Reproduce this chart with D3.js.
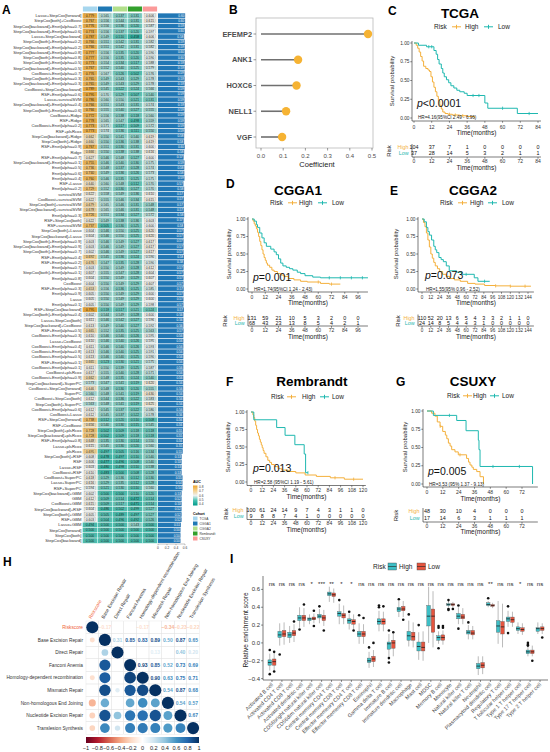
<!DOCTYPE html>
<html><head><meta charset="utf-8">
<script src="https://cdn.jsdelivr.net/npm/d3@7"></script>
<style>body{margin:0;background:#fff}svg{font-family:"Liberation Sans",Arial,Helvetica,sans-serif}</style>
</head><body><svg id="c" width="550" height="752"></svg>
<script>
// ---------------- DATA ----------------
const cohorts = ["TCGA","CGGA1","CGGA2","Rembrandt","CSUXY"];
const modelNames = [
"Lasso+StepCox[forward]","StepCox[both]+CoxBoost","StepCox[backward]+Enet[alpha=0.7]","StepCox[backward]+Enet[alpha=0.6]","Lasso+StepCox[backward]","StepCox[both]+Enet[alpha=0.2]","StepCox[backward]+Enet[alpha=0.2]","StepCox[backward]+Enet[alpha=0.8]","StepCox[both]+Enet[alpha=0.8]","StepCox[both]+Enet[alpha=0.5]",
"StepCox[backward]+Enet[alpha=0.5]","CoxBoost+Enet[alpha=0.7]","StepCox[both]+Enet[alpha=0.3]","StepCox[backward]+Enet[alpha=0.3]","CoxBoost+StepCox[backward]","RSF+Enet[alpha=0.6]","Lasso+survivalSVM","StepCox[backward]+Enet[alpha=0.4]","StepCox[both]+Enet[alpha=0.6]","CoxBoost+Ridge",
"RSF+Ridge","CoxBoost+Enet[alpha=0.2]","RSF+plsRcox","StepCox[backward]+Ridge","StepCox[both]+Ridge","RSF+Enet[alpha=0.9]","Ridge","RSF+Enet[alpha=0.7]","StepCox[backward]+Enet[alpha=0.1]","Enet[alpha=0.5]",
"Enet[alpha=0.6]","Enet[alpha=0.4]","RSF+Lasso","Enet[alpha=0.2]","survivalSVM","CoxBoost+survivalSVM","StepCox[both]+survivalSVM","StepCox[backward]+survivalSVM","Enet[alpha=0.3]","RSF+StepCox[both]",
"RSF+survivalSVM","StepCox[both]+Lasso","StepCox[backward]+Lasso","StepCox[both]+Enet[alpha=0.9]","StepCox[backward]+Enet[alpha=0.9]","StepCox[both]+Enet[alpha=0.7]","RSF+Enet[alpha=0.4]","RSF+Enet[alpha=0.2]","Enet[alpha=0.7]","StepCox[both]+Enet[alpha=0.1]",
"Enet[alpha=0.8]","CoxBoost","RSF+Enet[alpha=0.3]","Enet[alpha=0.9]","Lasso","Enet[alpha=0.1]","RSF+StepCox[backward]","StepCox[both]+Enet[alpha=0.4]","Lasso+StepCox[both]","StepCox[backward]+CoxBoost",
"RSF+Enet[alpha=0.5]","CoxBoost+Enet[alpha=0.3]","Lasso+CoxBoost","CoxBoost+Enet[alpha=0.4]","CoxBoost+Enet[alpha=0.8]","CoxBoost+Enet[alpha=0.5]","RSF+Enet[alpha=0.1]","CoxBoost+Enet[alpha=0.1]","CoxBoost+plsRcox","CoxBoost+Enet[alpha=0.9]",
"StepCox[backward]+SuperPC","CoxBoost+StepCox[forward]","SuperPC","CoxBoost+StepCox[both]","StepCox[both]+SuperPC","CoxBoost+Enet[alpha=0.6]","CoxBoost+Lasso","RSF+StepCox[forward]","RSF+CoxBoost","StepCox[both]+plsRcox",
"StepCox[backward]+plsRcox","RSF+Enet[alpha=0.8]","Lasso+plsRcox","plsRcox","StepCox[both]+RSF","RSF","Lasso+RSF","CoxBoost+RSF","CoxBoost+SuperPC","Lasso+SuperPC",
"RSF+SuperPC","StepCox[backward]+GBM","GBM","CoxBoost+GBM","StepCox[backward]+RSF","StepCox[both]+GBM","RSF+GBM","Lasso+GBM","StepCox[forward]","StepCox[both]",
"StepCox[backward]"];
const aucTCGA = [
.779,.767,.776,.774,.787,.766,.766,.777,.777,.773,
.767,.776,.765,.765,.789,.795,.786,.766,.766,.772,
.778,.773,.773,.662,.660,.767,.666,.627,.755,.736,
.740,.760,.640,.729,.622,.622,.679,.678,.726,.622,
.737,.604,.604,.603,.603,.602,.692,.676,.603,.607,
.604,.604,.653,.605,.605,.605,.795,.602,.611,.613,
.665,.610,.610,.611,.613,.613,.665,.611,.617,.662,
.573,.646,.560,.612,.563,.612,.612,.738,.656,.728,
.728,.648,.615,.695,.608,.606,.603,.610,.618,.616,
.594,.602,.612,.615,.604,.605,.603,.494,.500,.500,.500];
const aucCGGA1 = [
.565,.556,.556,.556,.549,.551,.551,.556,.556,.554,
.552,.567,.549,.549,.545,.570,.560,.551,.555,.556,
.565,.571,.574,.550,.550,.551,.550,.546,.546,.548,
.549,.546,.560,.552,.558,.555,.565,.565,.551,.549,
.505,.546,.546,.546,.546,.546,.545,.547,.550,.555,
.550,.550,.556,.550,.550,.550,.518,.544,.546,.549,
.552,.546,.546,.546,.546,.546,.523,.550,.555,.548,
.547,.548,.548,.544,.548,.545,.545,.512,.540,.502,
.502,.535,.545,.497,.478,.477,.480,.483,.529,.529,
.521,.500,.509,.509,.486,.505,.504,.500,.500,.500,.500];
const aucCGGA2 = [
.537,.544,.536,.537,.510,.542,.542,.535,.535,.534,
.540,.526,.543,.543,.522,.529,.550,.543,.540,.538,
.547,.517,.536,.541,.536,.530,.538,.548,.540,.537,
.536,.535,.548,.530,.549,.546,.546,.546,.534,.538,
.530,.550,.550,.549,.549,.549,.536,.535,.549,.547,
.549,.549,.536,.549,.549,.549,.517,.549,.542,.540,
.535,.540,.540,.540,.540,.540,.530,.539,.540,.535,
.541,.530,.541,.536,.541,.537,.537,.520,.530,.509,
.509,.530,.530,.505,.497,.496,.498,.500,.536,.535,
.530,.500,.514,.517,.502,.489,.496,.500,.500,.500,.500];
const aucRembrandt = [
.531,.531,.520,.520,.458,.531,.531,.520,.520,.517,
.525,.502,.529,.529,.524,.507,.521,.531,.527,.518,
.498,.509,.511,.540,.538,.531,.538,.527,.530,.528,
.526,.525,.512,.527,.536,.534,.531,.531,.527,.536,
.525,.525,.525,.527,.527,.527,.524,.528,.528,.528,
.529,.529,.525,.529,.529,.529,.521,.528,.527,.527,
.525,.526,.526,.526,.525,.525,.521,.525,.528,.524,
.519,.520,.519,.522,.519,.522,.522,.510,.515,.518,
.518,.514,.520,.516,.510,.508,.510,.508,.512,.512,
.510,.510,.472,.471,.499,.497,.492,.543,.500,.500,.500];
const aucCSUXY = [
.606,.615,.587,.597,.606,.582,.582,.590,.590,.588,
.579,.576,.578,.578,.566,.540,.531,.574,.555,.560,
.559,.572,.550,.619,.619,.600,.616,.600,.575,.574,
.573,.575,.570,.570,.610,.615,.548,.548,.572,.603,
.600,.620,.620,.617,.617,.617,.590,.590,.612,.604,
.607,.607,.585,.600,.600,.598,.524,.600,.596,.592,
.563,.595,.595,.593,.591,.590,.575,.587,.571,.540,
.620,.555,.630,.583,.625,.580,.578,.508,.545,.518,
.518,.550,.560,.534,.540,.540,.538,.528,.530,.528,
.560,.520,.514,.514,.527,.527,.526,.500,.500,.500,.500];
const aucLegendTicks = [0.8,0.7,0.6,0.5,0.4];
const meanTicks = [0,0.2,0.4,0.6];

const genes = ["EFEMP2","ANK1","HOXC6","NELL1","VGF"];
const coefs = [0.482,0.167,0.160,0.113,0.095];
const coefTicks = [0,0.1,0.2,0.3,0.4,0.5];

// Kaplan-Meier step data (months, survival)
const tcgaHighT=[0,1.5,2.5,3.5,4.5,5.5,6.5,8,9.5,10.5,11.5,12.5,13.5,14.5,15.5,16.5,17.5,18.5,19.5,21,23,26,31,36,41];
const tcgaHighS=[1,.97,.93,.88,.82,.76,.69,.66,.64,.62,.55,.48,.41,.35,.29,.23,.17,.12,.08,.06,.05,.04,.03,.02,0];
const tcgaLowT=[0,3,8.5,13.5,15,16,17,18.5,19.5,20.5,22,23.5,25,27,29,31,34,36,48,50,70];
const tcgaLowS=[1,.97,.95,.9,.85,.78,.72,.66,.6,.55,.51,.47,.43,.4,.37,.35,.33,.3,.2,.13,.06];
const tcgaRiskHigh=[104,37,7,1,0,0,0,0], tcgaRiskLow=[37,28,14,5,3,2,1,1];

const cgga1HighT=[0,1,2,3,4,5,6,7,8,9,10,11,12,13,14,16,18,20,23,26,29,33,38,44,50,62,70];
const cgga1HighS=[1,.97,.93,.90,.86,.81,.75,.68,.62,.56,.50,.45,.41,.37,.34,.31,.27,.25,.22,.20,.18,.15,.13,.11,.10,.08,.07];
const cgga1LowT=[0,2,4,5,7,9,11,13,17,20,22,24,26,28,31,34,37,41,44,48,55,62];
const cgga1LowS=[1,.97,.92,.88,.80,.73,.66,.61,.57,.53,.49,.43,.37,.33,.31,.29,.27,.24,.22,.19,.17,.16];
const cgga1RiskHigh=[131,59,21,10,5,3,2,0,0], cgga1RiskLow=[68,43,23,13,8,5,4,2,1];

const cgga2HighT=[0,2,4,6,8,10,12,14,16,18,21,24,28,33,38,44,52,62,72,85,100,120];
const cgga2HighS=[1,.95,.89,.80,.70,.60,.50,.44,.38,.33,.29,.25,.21,.18,.15,.13,.11,.08,.07,.05,.045,.04];
const cgga2LowT=[0,3,6,8,10,13,16,18,20,23,26,29,33,37,47,54,71,76];
const cgga2LowS=[1,.96,.88,.82,.77,.70,.61,.56,.52,.45,.42,.39,.33,.26,.24,.21,.16,.11];
const cgga2RiskHigh=[110,52,20,13,6,5,4,3,3,2,1,1,0], cgga2RiskLow=[24,14,8,5,4,4,3,1,0,0,0,0,0];

const remHighT=[0,2,3,4,5,6,7,8,9,10,11,12,13,14,16,18,20,22,25,29,33,40,48,58,70,85,100];
const remHighS=[1,.96,.92,.87,.81,.75,.70,.66,.61,.57,.53,.49,.45,.41,.36,.31,.28,.25,.22,.19,.17,.15,.13,.10,.08,.06,.04];
const remLowT=[0,3,27.5,36.5,47,57,58.5];
const remLowS=[1,.889,.778,.667,.533,.4,.133];
const remRiskHigh=[100,61,24,14,9,7,4,3,1,1,0], remRiskLow=[9,8,8,7,4,1,0,0,0,0,0];

const csuHighT=[0,3.5,6,7.8,9.9,11.9,13.9,15,16.2,17.5,18.7,21.2,23.7,30,31.5,32.6,34,35.1,37.7,40.2,42.8];
const csuHighS=[1,.97,.93,.85,.79,.72,.67,.62,.56,.52,.47,.44,.40,.35,.30,.26,.23,.20,.17,.10,0];
const csuLowT=[0,4.8,22.5,29.6,38.9,39.4,40.2,80];
const csuLowS=[1,.94,.87,.73,.6,.47,.24,0];
const csuRiskHigh=[48,30,10,4,0,0,0], csuRiskLow=[17,14,6,3,1,1,1];

// correlation (null = not significant)
const repairVars = ["Riskscore","Base Excision Repair","Direct Repair","Fanconi Anemia","Homology-dependent recombination","Mismatch Repair","Non-homologous End Joining","Nucleotide Excision Repair","Translesion Synthesis"];
const corrRows = [
 [1,-0.17,null,null,-0.17,null,-0.34,-0.23,-0.22],
 [-0.17,1,0.31,0.85,0.83,0.89,0.50,0.87,0.65],
 [null,0.31,1,null,null,0.13,null,0.40,0.20],
 [null,0.85,null,1,0.93,0.85,0.52,0.73,0.69],
 [-0.17,0.83,null,0.93,1,0.90,0.63,0.75,0.71],
 [null,0.89,0.13,0.85,0.90,1,0.54,0.87,0.68],
 [-0.34,0.50,null,0.52,0.63,0.54,1,0.54,0.57],
 [-0.23,0.87,0.40,0.73,0.75,0.87,0.54,1,0.67],
 [-0.22,0.65,0.20,0.69,0.71,0.68,0.57,0.67,1]];
const corrTicks = [-1,-0.8,-0.6,-0.4,-0.2,0,0.2,0.4,0.6,0.8,1];

// immune infiltration boxplots [lowWhisker,q1,median,q3,highWhisker]
const immuneCells = ["Activated B cell","Activated CD4 T cell","Activated CD8 T cell","Activated dendritic cell","CD56bright natural killer cell","CD56dim natural killer cell","Central memory CD4 T cell","Central memory CD8 T cell","Effector memeory CD4 T cell","Effector memeory CD8 T cell","Eosinophil","Gamma delta T cell","Immature  B cell","Immature dendritic cell","Macrophage","Mast cell","MDSC","Memory B cell","Monocyte","Natural killer cell","Natural killer T cell","Neutrophil","Plasmacytoid dendritic cell","Regulatory T cell","T follicular helper cell","Type 1 T helper cell","Type 17 T helper cell","Type 2 T helper cell"];
const immuneSig = ["ns","ns","ns","ns","*","***","**","*","*","ns","ns","ns","ns","ns","ns","ns","ns","ns","ns","ns","ns","ns","**","ns","ns","*","ns","ns"];
const highStats = [[-.31,-.25,-.22,-.19,-.12],[-.03,.06,.09,.13,.22],[0,.06,.09,.12,.19],[.17,.25,.28,.31,.40],[.21,.25,.27,.28,.32],[.22,.28,.30,.32,.38],[.46,.53,.55,.57,.63],[.21,.30,.33,.35,.44],[.15,.22,.25,.27,.33],[-.01,.07,.10,.13,.22],[-.28,-.22,-.20,-.17,-.10],[.13,.21,.24,.27,.36],[-.16,-.07,-.01,.01,.10],[.29,.35,.38,.40,.47],[-.04,.03,.08,.13,.25],[-.19,-.09,-.04,.01,.12],[0,.19,.30,.42,.63],[-.01,.03,.06,.08,.13],[.40,.42,.43,.44,.47],[.21,.27,.30,.33,.40],[.04,.10,.12,.14,.20],[-.36,-.29,-.26,-.23,-.15],[.40,.42,.43,.45,.47],[-.01,.12,.19,.25,.47],[.18,.24,.27,.29,.36],[.10,.14,.16,.18,.23],[-.15,-.12,-.10,-.08,-.03],[.10,.13,.16,.17,.23]];
const lowStats = [[-.31,-.25,-.21,-.18,-.11],[-.02,.07,.10,.14,.23],[.01,.08,.11,.14,.21],[.18,.25,.28,.31,.39],[.22,.26,.27,.29,.33],[.19,.25,.28,.31,.37],[.45,.52,.54,.56,.61],[.21,.28,.31,.33,.42],[.15,.21,.24,.26,.32],[-.01,.07,.10,.13,.21],[-.27,-.21,-.18,-.15,-.08],[.13,.21,.24,.27,.35],[-.15,-.06,0,.03,.12],[.29,.36,.38,.41,.47],[-.05,.03,.07,.12,.23],[-.20,-.09,-.05,.01,.13],[-.05,.12,.30,.38,.58],[-.02,.03,.06,.09,.14],[.39,.42,.43,.44,.46],[.21,.27,.29,.32,.39],[.04,.09,.11,.14,.19],[-.35,-.28,-.25,-.22,-.15],[.39,.41,.42,.43,.45],[-.05,.10,.18,.24,.44],[.18,.23,.26,.29,.35],[.09,.13,.15,.17,.22],[-.15,-.12,-.10,-.08,-.03],[.10,.14,.16,.18,.22]];
const highOut = [[-.08,-.35],[-.13],[],[.15],[],[.41],[],[.48],[.35],[.31],[-.05],[.40,.42],[.14,-.17,-.22],[.49],[.32],[.20],[],[.17,.19,-.06],[.48,.38,.37],[.42,.16],[.23],[],[.50],[],[.41,.11],[],[0,-.02,-.03],[]];
const lowOut = [[-.10,-.32],[],[.24],[.43],[.36,.19],[.14],[],[],[.14],[.28],[0],[.41],[.12],[.26],[],[],[],[.17,.19],[.38],[],[],[],[],[],[],[],[-.20],[.06]];
const enrichTicks = [-0.4,-0.2,0,0.2,0.4,0.6];

// ---------------- DRAW ----------------
const svg = d3.select("#c");
const HIGH="#F4B03C", LOW="#1FB8B0";
function txt(g,x,y,s,o={}){
  const t=g.append("text").attr("x",x).attr("y",y).text(s)
    .attr("font-size",o.size||6).attr("fill",o.fill||"#000")
    .attr("text-anchor",o.anchor||"start");
  if(o.weight) t.attr("font-weight",o.weight);
  if(o.style) t.attr("font-style",o.style);
  if(o.rotate!==undefined) t.attr("transform",`rotate(${o.rotate},${x},${y})`);
  return t;
}
function letter(x,y,s){ txt(svg,x,y,s,{size:12,weight:"bold"}); }

// ===== Panel A =====
letter(2,14,"A");
const A = svg.append("g");
const aucData=[aucTCGA,aucCGGA1,aucCGGA2,aucRembrandt,aucCSUXY];
const cohortCols=["#A6D6EE","#1F78B4","#B2DF8A","#33A02C","#FB9A99"];
const rowY=d3.scaleBand().domain(d3.range(modelNames.length)).range([13,543.3]);
const colX=d3.scaleBand().domain(cohorts).range([82.5,157.5]);
const aucColor=d3.scaleLinear().domain([0.4,0.5,0.6,0.7,0.8]).range(["#009A8A","#47C1B1","#EEF1F0","#F6D08A","#EEA42A"]).clamp(true);
cohorts.forEach((c,i)=>A.append("rect").attr("x",colX(c)+0.4).attr("y",6.5).attr("width",colX.bandwidth()-0.8).attr("height",5).attr("fill",cohortCols[i]));
const bh=rowY.bandwidth();
modelNames.forEach((m,r)=>{
  const y=rowY(r);
  cohorts.forEach((c,j)=>{
    const v=aucData[j][r], x=colX(c), w=colX.bandwidth();
    A.append("rect").attr("x",x).attr("y",y).attr("width",w).attr("height",bh).attr("fill",aucColor(v)).attr("stroke","#fff").attr("stroke-width",0.35);
    A.append("rect").attr("x",x+1.8).attr("y",y+0.7).attr("width",w-3.6).attr("height",bh-1.4).attr("fill","none").attr("stroke","#8c8c8c").attr("stroke-width",0.25);
    txt(A,x+w/2,y+bh/2+1.2,d3.format(".3f")(v),{size:3.4,anchor:"middle",fill:"#222"});
  });
  txt(A,81.5,y+bh/2+1.5,m,{size:4.2,anchor:"end",fill:"#333"});
});
const meanX=d3.scaleLinear().domain([0,0.6]).range([158,185]);
modelNames.forEach((m,r)=>{
  const mv=d3.mean(aucData,a=>a[r]);
  A.append("rect").attr("x",meanX(0)).attr("y",rowY(r)+0.35).attr("width",meanX(mv)-meanX(0)).attr("height",bh-0.7).attr("fill","#2177B5");
  txt(A,meanX(mv)-0.8,rowY(r)+bh/2+1.1,d3.format(".2f")(mv),{size:3.1,anchor:"end",fill:"#fff"});
});
A.append("line").attr("x1",meanX(0)).attr("x2",meanX(0.6)).attr("y1",544).attr("y2",544).attr("stroke","#333").attr("stroke-width",0.3);
meanTicks.forEach(t=>{
  A.append("line").attr("x1",meanX(t)).attr("x2",meanX(t)).attr("y1",544).attr("y2",545.3).attr("stroke","#333").attr("stroke-width",0.3);
  txt(A,meanX(t),549,t===0?"0":d3.format(".1f")(t),{size:3.2,anchor:"middle",fill:"#333"});
});
// A legend
const defs=svg.append("defs");
const gA=defs.append("linearGradient").attr("id","aucGrad").attr("x1",0).attr("x2",0).attr("y1",0).attr("y2",1);
aucLegendTicks.forEach((t,i)=>gA.append("stop").attr("offset",i/(aucLegendTicks.length-1)).attr("stop-color",aucColor(t)));
txt(A,193,483,"AUC",{size:3.6,weight:"bold"});
const legY=d3.scaleLinear().domain([0.8,0.4]).range([487,504]);
A.append("rect").attr("x",193).attr("y",485.5).attr("width",4.5).attr("height",20).attr("fill","url(#aucGrad)");
aucLegendTicks.forEach(t=>txt(A,199,legY(t)+1.2,d3.format(".1f")(t),{size:3.2,fill:"#333"}));
txt(A,193,515,"Cohort",{size:3.6,weight:"bold"});
cohorts.forEach((c,i)=>{
  A.append("rect").attr("x",193).attr("y",516.5+i*5).attr("width",4.5).attr("height",4).attr("fill",cohortCols[i]);
  txt(A,199.5,519.8+i*5,c,{size:3.2,fill:"#333"});
});

// ===== Panel B =====
letter(229,14,"B");
const B=svg.append("g");
const bx=d3.scaleLinear().domain([0,0.5]).range([261,372]);
const by=d3.scalePoint().domain(genes).range([34,137]);
B.append("rect").attr("x",256).attr("y",18).attr("width",117).attr("height",130).attr("fill","none").attr("stroke","#b8b8b8").attr("stroke-width",0.8);
genes.forEach((g,i)=>{
  B.append("line").attr("x1",bx(0)).attr("x2",bx(coefs[i])).attr("y1",by(g)).attr("y2",by(g)).attr("stroke","#707070").attr("stroke-width",1.6);
  B.append("circle").attr("cx",bx(coefs[i])).attr("cy",by(g)).attr("r",4.2).attr("fill","#F6B333");
  B.append("line").attr("x1",253.5).attr("x2",256).attr("y1",by(g)).attr("y2",by(g)).attr("stroke","#555").attr("stroke-width",0.6);
  txt(B,252,by(g)+2.6,g,{size:7.4,weight:"bold",anchor:"end",fill:"#4d4d4d"});
});
coefTicks.forEach(t=>{
  B.append("line").attr("x1",bx(t)).attr("x2",bx(t)).attr("y1",148).attr("y2",150.5).attr("stroke","#555").attr("stroke-width",0.6);
  txt(B,bx(t),158,d3.format(".1f")(t),{size:6,anchor:"middle",fill:"#4d4d4d"});
});
txt(B,317,166.5,"Coefficient",{size:7.5,anchor:"middle",fill:"#222"});

// ===== KM panels =====
function km(c){
  const g=svg.append("g");
  letter(c.lx,c.ly,c.letter);
  txt(g,c.tx,c.ty,c.title,{size:13.5,weight:"bold",anchor:"middle"});
  // legend
  txt(g,c.leg[0],c.legY,"Risk",{size:6.5,fill:"#222"});
  [[c.leg[1],HIGH,"High",c.leg[2]],[c.leg[3],LOW,"Low",c.leg[4]]].forEach(([lx,col,lab,tx])=>{
    g.append("line").attr("x1",lx).attr("x2",lx+9).attr("y1",c.legY-2.2).attr("y2",c.legY-2.2).attr("stroke",col).attr("stroke-width",1);
    g.append("line").attr("x1",lx+4.5).attr("x2",lx+4.5).attr("y1",c.legY-4.2).attr("y2",c.legY-0.2).attr("stroke",col).attr("stroke-width",1);
    txt(g,tx,c.legY,lab,{size:6.5,fill:"#222"});
  });
  const x=d3.scaleLinear().domain([0,1]).range([c.x0,c.x0+c.ppm]);
  const y=d3.scaleLinear().domain([0,1]).range([c.yB,c.yT]);
  const xEnd=x(c.xMax);
  // axes
  g.append("line").attr("x1",c.axX).attr("x2",c.axX).attr("y1",c.yT-2).attr("y2",c.axY).attr("stroke","#222").attr("stroke-width",0.6);
  g.append("line").attr("x1",c.axX).attr("x2",xEnd).attr("y1",c.axY).attr("y2",c.axY).attr("stroke","#222").attr("stroke-width",0.6);
  [0,0.25,0.5,0.75,1].forEach(v=>{
    g.append("line").attr("x1",c.axX-1.8).attr("x2",c.axX).attr("y1",y(v)).attr("y2",y(v)).attr("stroke","#222").attr("stroke-width",0.5);
    txt(g,c.axX-2.5,y(v)+1.7,d3.format(".2f")(v),{size:4.8,anchor:"end",fill:"#333"});
  });
  c.breaks.forEach(b=>{
    g.append("line").attr("x1",x(b)).attr("x2",x(b)).attr("y1",c.axY).attr("y2",c.axY+1.8).attr("stroke","#222").attr("stroke-width",0.5);
    txt(g,x(b),c.tickY,b,{size:c.tfs||5,anchor:"middle",fill:"#333"});
  });
  const mid=(c.axX+xEnd)/2;
  txt(g,mid,c.timeY,"Time(months)",{size:6.5,anchor:"middle",fill:"#222"});
  txt(g,c.spX,c.spY,"Survival probability",{size:6,anchor:"middle",fill:"#222",rotate:-90});
  // curves
  const line=d3.line().x(d=>x(d[0])).y(d=>y(d[1])).curve(d3.curveStepAfter);
  [[c.hT,c.hS,c.hEnd,HIGH,c.hC],[c.lT,c.lS,c.lEnd,LOW,c.lC]].forEach(([T,S,end,col,cens])=>{
    const pts=T.map((t,i)=>[t,S[i]]); pts.push([end,S[S.length-1]]);
    g.append("path").attr("d",line(pts)).attr("fill","none").attr("stroke",col).attr("stroke-width",1);
    (cens||[]).forEach(t=>{
      const i=d3.bisectRight(T,t)-1; const s=S[Math.max(0,i)];
      g.append("line").attr("x1",x(t)).attr("x2",x(t)).attr("y1",y(s)-1.6).attr("y2",y(s)+1.6).attr("stroke",col).attr("stroke-width",0.8);
    });
  });
  // p and HR
  const pt=g.append("text").attr("x",c.pX).attr("y",c.pY).attr("font-size",10.5).attr("fill","#111");
  pt.append("tspan").attr("font-style","italic").text("p");
  pt.append("tspan").text(c.p);
  txt(g,c.pX+1,c.hrY,c.hr,{size:4.6,fill:"#222"});
  // risk table
  txt(g,c.riskX,(c.rowY[0]+c.rowY[1])/2-1,"Risk",{size:6,anchor:"middle",rotate:-90,fill:"#222"});
  txt(g,c.axX-3.5,c.rowY[0],"High",{size:5.3,anchor:"end",fill:HIGH});
  txt(g,c.axX-3.5,c.rowY[1],"Low",{size:5.3,anchor:"end",fill:LOW});
  g.append("line").attr("x1",c.axX).attr("x2",c.axX).attr("y1",c.rowY[0]-5).attr("y2",c.rAxY).attr("stroke","#222").attr("stroke-width",0.6);
  g.append("line").attr("x1",c.axX).attr("x2",xEnd).attr("y1",c.rAxY).attr("y2",c.rAxY).attr("stroke","#222").attr("stroke-width",0.6);
  c.breaks.forEach((b,i)=>{
    txt(g,x(b),c.rowY[0],c.rH[i],{size:5.4,anchor:"middle",fill:"#111"});
    txt(g,x(b),c.rowY[1],c.rL[i],{size:5.4,anchor:"middle",fill:"#111"});
    g.append("line").attr("x1",x(b)).attr("x2",x(b)).attr("y1",c.rAxY).attr("y2",c.rAxY+1.8).attr("stroke","#222").attr("stroke-width",0.5);
    txt(g,x(b),c.rTickY,b,{size:c.tfs||5,anchor:"middle",fill:"#333"});
  });
  txt(g,mid,c.rTimeY,"Time(months)",{size:6.5,anchor:"middle",fill:"#222"});
}
km({letter:"C",lx:388,ly:15,title:"TCGA",tx:460,ty:18,legY:29,leg:[434,452,465,484,498],
  axX:412,x0:414,ppm:124/84,xMax:86,breaks:d3.range(0,85,12),yT:43,yB:118,axY:121,tickY:129,timeY:135,spX:394,spY:81,
  hT:tcgaHighT,hS:tcgaHighS,hEnd:41,lT:tcgaLowT,lS:tcgaLowS,lEnd:84,hC:[24,28,33],lC:[10,12,40,44,60,78],
  p:"<0.0001",pX:417,pY:106.5,hr:"HR=4.16(95%CI 2.49 - 6.96)",hrY:118.5,
  riskX:391,rowY:[149,155],rAxY:157,rTickY:163,rTimeY:170,rH:tcgaRiskHigh,rL:tcgaRiskLow});
km({letter:"D",lx:226,ly:188,title:"CGGA1",tx:298,ty:195,legY:205,leg:[270,288,299,318,332],
  axX:248,x0:252,ppm:13.25/12,xMax:105,breaks:d3.range(0,97,12),yT:219,yB:289,axY:292,tickY:298.5,timeY:305,spX:231,spY:254,
  hT:cgga1HighT,hS:cgga1HighS,hEnd:80,lT:cgga1LowT,lS:cgga1LowS,lEnd:105,hC:[60,72],lC:[70,80,90,100],
  p:"=0.001",pX:253,pY:281,hr:"HR=1.74(95%CI 1.24 - 2.43)",hrY:290.5,
  riskX:227,rowY:[319.5,324.5],rAxY:326,rTickY:331.5,rTimeY:338.5,rH:cgga1RiskHigh,rL:cgga1RiskLow});
km({letter:"E",lx:390,ly:195,title:"CGGA2",tx:473,ty:195,legY:205,leg:[440,458,470,488,502],
  axX:418,x0:422,ppm:106/144,xMax:152,breaks:d3.range(0,145,12),yT:219,yB:289,axY:292,tickY:298.5,timeY:305,spX:398,spY:254,tfs:4.6,
  hT:cgga2HighT,hS:cgga2HighS,hEnd:148,lT:cgga2LowT,lS:cgga2LowS,lEnd:92,hC:[100,120,140],lC:[60,85],
  p:"=0.073",pX:425,pY:279,hr:"HR=1.55(95% 0.96 - 2.52)",hrY:290.5,
  riskX:400,rowY:[319.5,324.5],rAxY:326,rTickY:331.5,rTimeY:338.5,rH:cgga2RiskHigh,rL:cgga2RiskLow});
km({letter:"F",lx:226,ly:386,title:"Rembrandt",tx:312,ty:386,legY:399,leg:[271,287,302,320,332],
  axX:247,x0:251,ppm:112/120,xMax:123,breaks:d3.range(0,121,12),yT:412,yB:482,axY:485.5,tickY:492,timeY:498.5,spX:230,spY:447,
  hT:remHighT,hS:remHighS,hEnd:120,lT:remLowT,lS:remLowS,lEnd:61,hC:[90,110],lC:[61],
  p:"=0.013",pX:253,pY:472,hr:"HR=2.58 (95%CI 1.19 - 5.61)",hrY:484,
  riskX:228,rowY:[512,518],rAxY:519.5,rTickY:525,rTimeY:531.5,rH:remRiskHigh,rL:remRiskLow});
km({letter:"G",lx:396,ly:386,title:"CSUXY",tx:473,ty:386,legY:398,leg:[447,463,473,490,502],
  axX:423,x0:427,ppm:95/72,xMax:84,breaks:d3.range(0,73,12),yT:411,yB:484,axY:487,tickY:494,timeY:500.5,spX:407,spY:447,
  hT:csuHighT,hS:csuHighS,hEnd:42.8,lT:csuLowT,lS:csuLowS,lEnd:80,hC:[10,25],lC:[17,50,70],
  p:"=0.005",pX:428,pY:475,hr:"HR=3.53 (95% 1.37 - 9.13)",hrY:486,
  riskX:398,rowY:[513,520],rAxY:522,rTickY:528,rTimeY:534,rH:csuRiskHigh,rL:csuRiskLow});

// ===== Panel H =====
letter(3,566,"H");
const H=svg.append("g");
const rdbu=["#67001F","#B2182B","#D6604D","#F4A582","#FDDBC7","#FFFFFF","#D1E5F0","#92C5DE","#4393C3","#2166AC","#053061"];
const corrColor=d3.scaleLinear().domain(corrTicks).range(rdbu);
const hx=d3.scaleBand().domain(d3.range(9)).range([86,199.4]);
const hy=d3.scaleBand().domain(d3.range(9)).range([621,734.4]);
const cw=hx.bandwidth();
for(let i=0;i<9;i++)for(let j=0;j<9;j++){
  H.append("rect").attr("x",hx(j)).attr("y",hy(i)).attr("width",cw).attr("height",cw).attr("fill","none").attr("stroke","#e3e3e3").attr("stroke-width",0.4);
}
for(let i=0;i<9;i++)for(let j=0;j<9;j++){
  const v=corrRows[i][j]; if(v===null) continue;
  const cx=hx(j)+cw/2, cy=hy(i)+cw/2;
  if(j<=i){
    H.append("circle").attr("cx",cx).attr("cy",cy).attr("r",Math.sqrt(Math.abs(v))*cw*0.48).attr("fill",corrColor(v));
  } else {
    txt(H,cx,cy+1.8,d3.format(".2f")(v),{size:5,weight:"bold",anchor:"middle",fill:corrColor(v)});
  }
}
repairVars.forEach((v,i)=>{
  const col=i===0?"#F0643A":"#333";
  txt(H,83,hy(i)+cw/2+1.7,v,{size:4.75,anchor:"end",fill:col});
  txt(H,hx(i)+cw/2-1,619,v,{size:4.75,fill:col,rotate:-60});
});
const gH=defs.append("linearGradient").attr("id","corrGrad");
rdbu.forEach((c,i)=>gH.append("stop").attr("offset",i/10).attr("stop-color",c));
const cbx=d3.scaleLinear().domain([-1,1]).range([86,199]);
H.append("rect").attr("x",86).attr("y",737).attr("width",113).attr("height",6).attr("fill","url(#corrGrad)");
corrTicks.forEach(t=>txt(H,cbx(t),750,d3.format("~g")(t),{size:5.6,anchor:"middle",fill:"#222"}));

// ===== Panel I =====
letter(230,563,"I");
const I=svg.append("g");
const BH="#3DBFC6", BL="#E5553F";
const ix=d3.scaleBand().domain(immuneCells).range([267,545]);
const iy=d3.scaleLinear().domain([-0.4,0.6]).range([678.6,589.4]);
txt(I,373,569,"Risk",{size:6.5,fill:"#222"});
[[388,BH,"High",399],[417,BL,"Low",428]].forEach(([x0,col,lab,tx])=>{
  I.append("rect").attr("x",x0).attr("y",563).attr("width",8.5).attr("height",7).attr("fill",col).attr("stroke","#444").attr("stroke-width",0.4);
  I.append("line").attr("x1",x0).attr("x2",x0+8.5).attr("y1",566.5).attr("y2",566.5).attr("stroke","#222").attr("stroke-width",0.6);
  txt(I,tx,569,lab,{size:6.5,fill:"#222"});
});
I.append("line").attr("x1",263).attr("x2",263).attr("y1",576).attr("y2",680).attr("stroke","#222").attr("stroke-width",0.6);
I.append("line").attr("x1",263).attr("x2",548).attr("y1",680).attr("y2",680).attr("stroke","#222").attr("stroke-width",0.6);
enrichTicks.forEach(t=>{
  I.append("line").attr("x1",261).attr("x2",263).attr("y1",iy(t)).attr("y2",iy(t)).attr("stroke","#222").attr("stroke-width",0.5);
  txt(I,260,iy(t)+2,d3.format(".1f")(t),{size:6,anchor:"end",fill:"#333"});
});
txt(I,248,630,"Relative enrichment score",{size:6.5,anchor:"middle",rotate:-90,fill:"#222"});
function box(cx,s,col,outs){
  const w=3.6;
  I.append("line").attr("x1",cx).attr("x2",cx).attr("y1",iy(s[0])).attr("y2",iy(s[4])).attr("stroke","#777").attr("stroke-width",0.5);
  I.append("rect").attr("x",cx-w/2).attr("y",iy(s[3])).attr("width",w).attr("height",iy(s[1])-iy(s[3])).attr("fill",col).attr("stroke","#555").attr("stroke-width",0.35);
  I.append("line").attr("x1",cx-w/2).attr("x2",cx+w/2).attr("y1",iy(s[2])).attr("y2",iy(s[2])).attr("stroke","#111").attr("stroke-width",0.7);
  outs.forEach(o=>I.append("circle").attr("cx",cx).attr("cy",iy(o)).attr("r",1.3).attr("fill","#111"));
}
immuneCells.forEach((c,k)=>{
  const cx=ix(c)+ix.bandwidth()/2;
  box(cx-2.2,highStats[k],BH,highOut[k]);
  box(cx+2.2,lowStats[k],BL,lowOut[k]);
  txt(I,cx,586,immuneSig[k],{size:6,anchor:"middle",fill:"#222"});
  I.append("line").attr("x1",cx).attr("x2",cx).attr("y1",680).attr("y2",682).attr("stroke","#222").attr("stroke-width",0.5);
  txt(I,cx+1.5,685,c.replace("  "," "),{size:5.4,anchor:"end",fill:"#4d4d4d",rotate:-45});
});
</script></body></html>
